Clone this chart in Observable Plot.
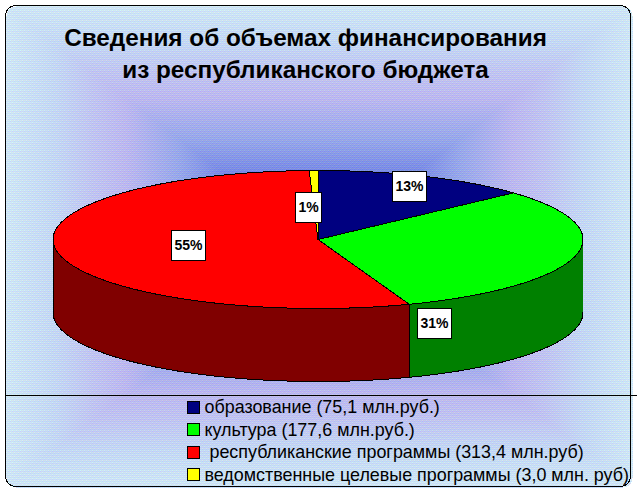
<!DOCTYPE html>
<html><head><meta charset="utf-8">
<script src="https://cdn.jsdelivr.net/npm/d3@7"></script>
<script src="https://cdn.jsdelivr.net/npm/@observablehq/plot@0.6"></script>
<style>html,body{margin:0;padding:0;background:#fff}svg{display:block}</style>
</head><body><div id="chart"></div>
<script>
// data
const categories = ["образование", "культура", "республиканские программы", "ведомственные целевые программы"];
const amounts = [75.1, 177.6, 313.4, 3.0];
const percentLabels = ["13%", "31%", "55%", "1%"];
const legendLabels = [
  "образование (75,1 млн.руб.)",
  "культура (177,6 млн.руб.)",
  "\u00a0республиканские программы (313,4 млн.руб)",
  "ведомственные целевые программы (3,0 млн. руб)"
];
const titleLines = ["Сведения об объемах финансирования", "из республиканского бюджета"];
const topColors = ["#000080", "#00ff00", "#ff0000", "#ffff00"];

// layout
const W = 637, H = 492;
const cx = 317.5, cy = 239, rx = 265, ry = 69, depth = 73;
const labelCentres = [[409, 186], [434, 323], [188, 245], [308, 207]];
const legendRows = [407, 429.5, 452, 474.5];

// geometry from the values: angles run clockwise from 12 o'clock
const total = d3.sum(amounts);
let acc = 0;
const slices = amounts.map((v, i) => {
  const a0 = acc / total * 2 * Math.PI;
  acc += v;
  return {i, cat: categories[i], a0, a1: acc / total * 2 * Math.PI};
});
const pt = (a, dz = 0) => ({x: cx + rx * Math.sin(a), y: cy - ry * Math.cos(a) + dz});
const arc = (a0, a1, dz = 0) => d3.range(0, 121).map(k => pt(a0 + (a1 - a0) * k / 120, dz));
const topPolys = slices.flatMap(s => [{x: cx, y: cy}, ...arc(s.a0, s.a1), {x: cx, y: cy}].map(p => ({...p, cat: s.cat, i: s.i})));
const wallPolys = slices.flatMap(s => {
  const a0 = Math.max(s.a0, Math.PI / 2), a1 = Math.min(s.a1, 3 * Math.PI / 2);
  if (a1 <= a0) return [];
  const up = arc(a0, a1), dn = arc(a0, a1, depth).reverse();
  return [...up, ...dn, up[0]].map(p => ({...p, cat: s.cat, i: s.i}));
});

// background: rectangular gradient with a fine ordered dither
const stops = d3.scaleLinear()
  .domain([0, 0.25, 0.45, 0.62, 0.72, 0.85, 1])
  .range(["#5c6ce0", "#6c7ee2", "#98a8ea", "#bcb8f0", "#c0c4f2", "#c4d8f6", "#cfe6f8"])
  .clamp(true);
const bayer = [[0, 8, 2, 10], [12, 4, 14, 6], [3, 11, 1, 9], [15, 7, 13, 5]];
const q = (c, x, y) => Math.max(0, Math.min(255, Math.round(c + ((bayer[y & 3][x & 3] + 0.5) / 16 - 0.5) * 46)));
const inside = (x, y) => {
  const L = 5, T = 5, R = 631, B = 486, r = 10;
  if (x < L || x > R || y < T || y > B) return false;
  const ex = x < L + r ? L + r - x : x > R - r ? x - R + r : 0;
  const ey = y < T + r ? T + r - y : y > B - r ? y - B + r : 0;
  return ex * ex + ey * ey <= r * r;
};
function bg(px, py) {
  const x = Math.floor(px), y = Math.floor(py);
  if (!inside(x, y)) return "#ffffff";
  const t = Math.max(Math.abs(x - 318) / 313, Math.abs(y - 245) / 240);
  const c = d3.rgb(stops(t));
  return `rgb(${q(c.r, x, y)},${q(c.g, x + 1, y + 2)},${q(c.b, x + 2, y + 1)})`;
}

// dither patterns for the walls
const defs = () => {
  const s = d3.create("svg:g");
  const d = s.append("defs");
  [["wall2", "#ff0000"], ["wall1", "#00ff00"]].forEach(([id, col]) => {
    const p = d.append("pattern").attr("id", id).attr("width", 2).attr("height", 2).attr("patternUnits", "userSpaceOnUse");
    p.append("rect").attr("width", 2).attr("height", 2).attr("fill", "#000").attr("shape-rendering", "crispEdges");
    p.append("rect").attr("width", 1).attr("height", 1).attr("fill", col).attr("shape-rendering", "crispEdges");
    p.append("rect").attr("x", 1).attr("y", 1).attr("width", 1).attr("height", 1).attr("fill", col).attr("shape-rendering", "crispEdges");
  });
  return s.node();
};
const wallFill = {1: "url(#wall1)", 2: "url(#wall2)"};

const font = "Liberation Sans, Arial, sans-serif";
const chart = Plot.plot({
  width: W, height: H,
  margin: 0,
  x: {domain: [0, W], range: [0, W], axis: null},
  y: {domain: [0, H], range: [0, H], axis: null},
  color: {type: "identity"},
  style: {background: "#fff", fontFamily: font},
  marks: [
    defs,
    Plot.raster({fill: bg, x1: 0, x2: W, y1: 0, y2: H, pixelSize: 1, imageRendering: "pixelated"}),
    Plot.rect([0], {x1: 5.5, x2: 630.5, y1: 5.5, y2: 486.5, rx: 10, fill: "none", stroke: "#000", strokeWidth: 1, shapeRendering: "crispEdges"}),
    Plot.ruleY([394.5], {x1: 5, x2: W, stroke: "#000", strokeWidth: 1, shapeRendering: "crispEdges"}),
    ...slices.filter(s => wallFill[s.i]).map(s =>
      Plot.line(wallPolys.filter(p => p.i === s.i), {x: "x", y: "y", fill: wallFill[s.i], stroke: "#000", strokeWidth: 1, curve: "linear", shapeRendering: "crispEdges"})),
    ...slices.map(s =>
      Plot.line(topPolys.filter(p => p.i === s.i), {x: "x", y: "y", fill: topColors[s.i], stroke: "#000", strokeWidth: 1, curve: "linear", shapeRendering: "crispEdges"})),
    Plot.rect(percentLabels, {
      x1: (d, i) => labelCentres[i][0] - (d.length > 2 ? 17 : 13), x2: (d, i) => labelCentres[i][0] + (d.length > 2 ? 17 : 13),
      y1: (d, i) => labelCentres[i][1] - 15, y2: (d, i) => labelCentres[i][1] + 15,
      fill: "#fff", stroke: "#000", strokeWidth: 1, shapeRendering: "crispEdges"
    }),
    Plot.text(percentLabels, {
      x: (d, i) => labelCentres[i][0], y: (d, i) => labelCentres[i][1], text: d => d,
      fontSize: 14, fontWeight: "bold", fill: "#000", fontFamily: font
    }),
    Plot.text(titleLines, {
      x: 305, y: (d, i) => 38 + i * 32, text: d => d,
      fontSize: 24.3, fontWeight: "bold", fill: "#000", fontFamily: font
    }),
    Plot.rect(legendLabels, {
      x1: 187, x2: 199, y1: (d, i) => legendRows[i] - 6, y2: (d, i) => legendRows[i] + 6,
      fill: (d, i) => topColors[i], stroke: "#000", strokeWidth: 1, shapeRendering: "crispEdges"
    }),
    Plot.text(legendLabels, {
      x: 204, y: (d, i) => legendRows[i], text: d => d, textAnchor: "start",
      fontSize: 17.9, fill: "#000", fontFamily: font
    })
  ]
});
document.getElementById("chart").appendChild(chart);
</script></body></html>
